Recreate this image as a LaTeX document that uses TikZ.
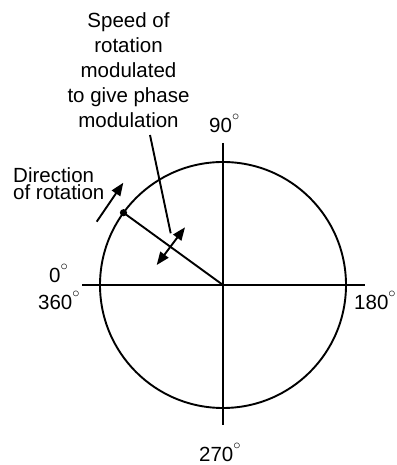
\documentclass[tikz,border=0pt]{standalone}
\usepackage{fontspec}
\setmainfont{Liberation Sans}
\usetikzlibrary{arrows.meta,calc}
\newcommand{\dg}{\raisebox{0.6em}{$\scriptstyle\circ$}}
\begin{document}
\begin{tikzpicture}[x=1pt,y=1pt,
  ln/.style={line width=1.9pt},
  tip/.style={-{Triangle[length=13pt,width=10pt]}},
  dtip/.style={{Triangle[length=13pt,width=10pt]}-{Triangle[length=13pt,width=10pt]}},
  lab/.style={inner sep=0pt,font=\fontsize{20.5}{25}\selectfont}]
\useasboundingbox (0,0) rectangle (396,465);
\coordinate (O) at (223,180);
\node[circle,draw,ln,minimum size=246pt,inner sep=0pt] (C) at (O) {};
\coordinate (hl) at (82,180);
\coordinate (hr) at (365,180);
\coordinate (vt) at (223,322);
\coordinate (vb) at (223,40);
\draw[ln] (hl) -- (hr);
\draw[ln] (vt) -- (vb);
\coordinate (P) at ($(O)+(144:123)$);
\draw[ln] (P) -- (O);
\fill (P) circle (3.6pt);
\coordinate (d1) at (156.7,200);
\coordinate (d2) at (185,237.7);
\draw[ln,dtip] (d1) -- (d2);
\coordinate (l1) at (150,330);
\coordinate (l2) at (170.7,231.7);
\draw[ln] (l1) -- (l2);
\coordinate (r1) at (96.7,243.3);
\coordinate (r2) at (123.3,282.3);
\draw[ln,tip] (r1) -- (r2);
\node[lab,align=center,anchor=north] (speed) at (128.5,453) {Speed of\\rotation\\modulated\\to give phase\\modulation};
\node[lab,align=left,anchor=north west,font=\fontsize{20.5}{17.5}\selectfont] (dir) at (13,298) {Direction\\of rotation};
\node[lab,anchor=base west] (n90) at (209,332) {90\dg};
\node[lab,anchor=base west] (n0) at (49,182) {0\dg};
\node[lab,anchor=base west] (n360) at (38,155) {360\dg};
\node[lab,anchor=base west] (n180) at (354,155) {180\dg};
\node[lab,anchor=base west] (n270) at (199,3) {270\dg};
\end{tikzpicture}
\end{document}
